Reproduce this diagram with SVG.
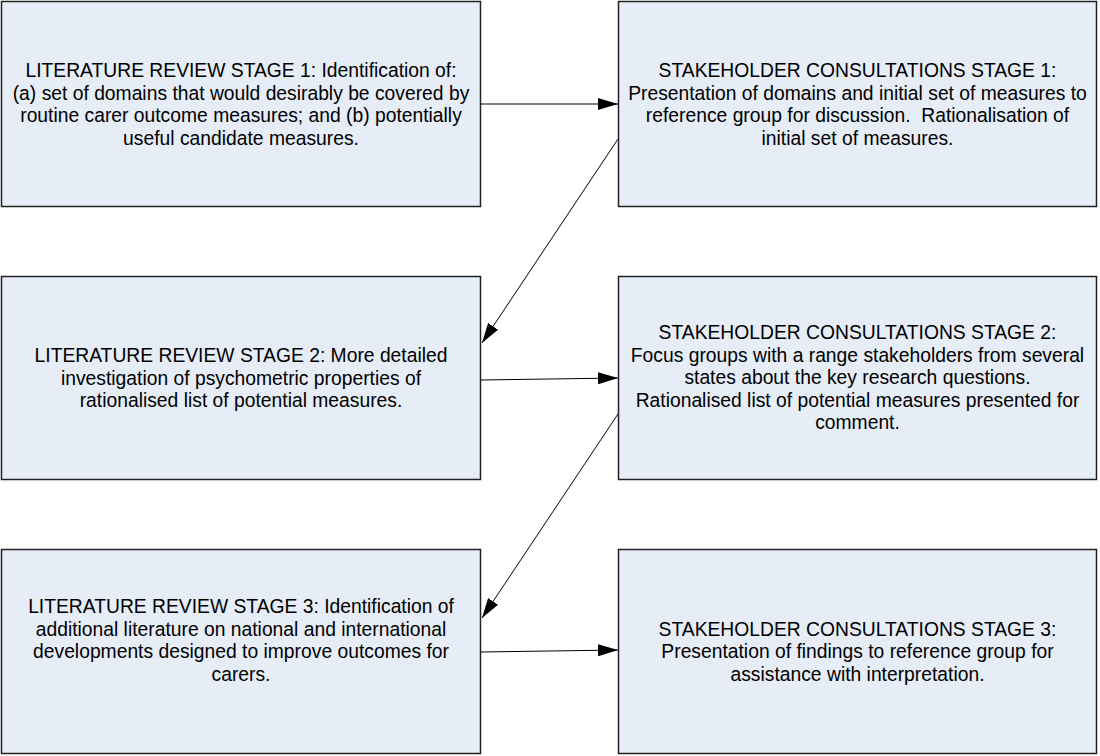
<svg xmlns="http://www.w3.org/2000/svg" width="1100" height="756" viewBox="0 0 1100 756">
<style>
.box{fill:#e6edf7;stroke:#222;stroke-width:1.5}
text{font-family:"Liberation Sans",Arial,sans-serif;font-size:19.3px;fill:#000;text-anchor:middle}
.c{stroke:#000;stroke-width:1;fill:none;marker-end:url(#ah)}
</style>
<defs>
<marker id="ah" viewBox="0 0 20 12" refX="20" refY="6" markerWidth="20" markerHeight="12" markerUnits="userSpaceOnUse" orient="auto">
<path d="M0,0 L20,6 L0,12 Z" fill="#000"/>
</marker>
</defs>
<rect width="1100" height="756" fill="#fff"/>
<g id="lit1">
<rect class="box" x="1.5" y="1.5" width="479" height="205"/>
<text x="241" y="77">LITERATURE REVIEW STAGE 1: Identification of:</text>
<text x="241" y="99.5">(a) set of domains that would desirably be covered by</text>
<text x="241" y="122">routine carer outcome measures; and (b) potentially</text>
<text x="241" y="144.5">useful candidate measures.</text>
</g>
<g id="stk1">
<rect class="box" x="618.5" y="1.5" width="478" height="205"/>
<text x="857.5" y="77">STAKEHOLDER CONSULTATIONS STAGE 1:</text>
<text x="857.5" y="99.5">Presentation of domains and initial set of measures to</text>
<text x="857.5" y="122" xml:space="preserve">reference group for discussion.  Rationalisation of</text>
<text x="857.5" y="144.5">initial set of measures.</text>
</g>
<g id="lit2">
<rect class="box" x="1.5" y="276.5" width="479" height="203"/>
<text x="241" y="362">LITERATURE REVIEW STAGE 2: More detailed</text>
<text x="241" y="384.5">investigation of psychometric properties of</text>
<text x="241" y="407">rationalised list of potential measures.</text>
</g>
<g id="stk2">
<rect class="box" x="618.5" y="276.5" width="478" height="203"/>
<text x="857.5" y="339">STAKEHOLDER CONSULTATIONS STAGE 2:</text>
<text x="857.5" y="361.5">Focus groups with a range stakeholders from several</text>
<text x="857.5" y="384">states about the key research questions.</text>
<text x="857.5" y="406.5">Rationalised list of potential measures presented for</text>
<text x="857.5" y="429">comment.</text>
</g>
<g id="lit3">
<rect class="box" x="1.5" y="549.5" width="479" height="204"/>
<text x="241" y="613">LITERATURE REVIEW STAGE 3: Identification of</text>
<text x="241" y="635.5">additional literature on national and international</text>
<text x="241" y="658">developments designed to improve outcomes for</text>
<text x="241" y="680.5">carers.</text>
</g>
<g id="stk3">
<rect class="box" x="618.5" y="549.5" width="478" height="204"/>
<text x="857.5" y="635.5">STAKEHOLDER CONSULTATIONS STAGE 3:</text>
<text x="857.5" y="658">Presentation of findings to reference group for</text>
<text x="857.5" y="680.5">assistance with interpretation.</text>
</g>
<g id="connectors">
<path class="c" d="M481,104 L618,104"/>
<path class="c" d="M618,139 L482,343"/>
<path class="c" d="M481,380 L618,378"/>
<path class="c" d="M618,414 L482,618"/>
<path class="c" d="M481,652 L618,650"/>
</g>
</svg>
